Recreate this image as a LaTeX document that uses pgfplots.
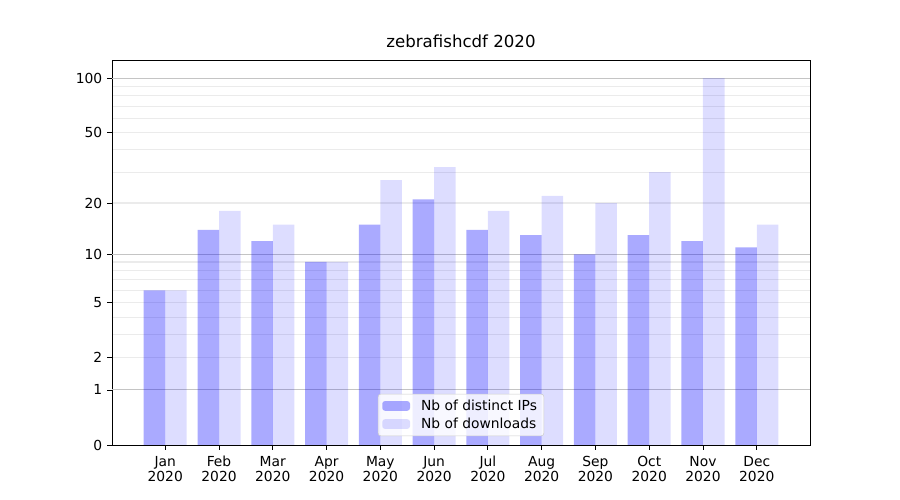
\documentclass[border=0pt]{standalone}
\usepackage{pgfplots}
\pgfplotsset{compat=1.18}
\usepackage{fontspec}
\setmainfont{DejaVu Sans}
\definecolor{gridmaj}{HTML}{C4C4C4}
\definecolor{gridmin}{HTML}{EBEBEB}
\definecolor{legedge}{HTML}{CCCCCC}
\begin{document}
\begin{tikzpicture}
\useasboundingbox (0,0) rectangle (9in,5in);
\begin{axis}[
  at={(1.12in,0.55in)}, anchor=south west,
  width=6.98in, height=3.85in, scale only axis,
  xmin=-0.99, xmax=11.99, ymin=0, ymax=126,
  y coord trafo/.code={\pgfmathparse{log10(#1+1)}},
  y coord inv trafo/.code={\pgfmathparse{10^(#1)-1}},
  font=\fontsize{10}{12}\selectfont,
  /pgf/number format/assume math mode=true,
  title={zebrafishcdf 2020},
  title style={font=\fontsize{12}{14}\selectfont, yshift=-1pt},
  xtick={0,1,2,3,4,5,6,7,8,9,10,11},
  xticklabels={{Jan\\2020},{Feb\\2020},{Mar\\2020},{Apr\\2020},{May\\2020},{Jun\\2020},{Jul\\2020},{Aug\\2020},{Sep\\2020},{Oct\\2020},{Nov\\2020},{Dec\\2020}},
  xticklabel style={align=center, font=\fontsize{10}{11}\selectfont, yshift=-1pt},
  ytick={0,1,2,5,10,20,50,100},
  yticklabels={0,1,2,5,10,20,50,100},
  minor ytick={3,4,6,7,8,9,30,40,60,70,80,90,2,5,20,50},
  yminorgrids=true,
  minor grid style={gridmin, line width=0.8pt},
  minor tick length=0pt,
  extra y ticks={1,10,100},
  extra y tick labels={},
  extra y tick style={grid=major, major grid style={gridmaj, line width=0.8pt}, major tick length=0pt},
  tick align=outside,
  major tick length=3.5pt,
  tick style={black, line width=0.6pt},
  xtick pos=bottom, ytick pos=left,
  axis line style={black, line width=0.6pt},
  ybar, bar width=0.4,
  legend style={at={(0.5,0.023)}, anchor=south, draw=legedge, rounded corners=2pt,
    fill=white, fill opacity=0.8, text opacity=1, font=\fontsize{10}{12}\selectfont,
    inner xsep=3pt, inner ysep=2pt, row sep=0pt},
  legend cell align=left,
  legend image code/.code={\fill[#1] (0in,-0.0485in) rectangle (0.278in,0.0485in);
    \path (0.36in,0) circle (0pt);},
]
\addplot[fill=blue, fill opacity=0.333, draw=none, bar shift=-0.2] coordinates {
  (0,6) (1,14) (2,12) (3,9) (4,15) (5,21) (6,14) (7,13) (8,10) (9,13) (10,12) (11,11)};
\addlegendentry{Nb of distinct IPs}
\addplot[fill=blue, fill opacity=0.133, draw=none, bar shift=0.2] coordinates {
  (0,6) (1,18) (2,15) (3,9) (4,27) (5,32) (6,18) (7,22) (8,20) (9,30) (10,100) (11,15)};
\addlegendentry{Nb of downloads}
\end{axis}
\end{tikzpicture}
\end{document}
